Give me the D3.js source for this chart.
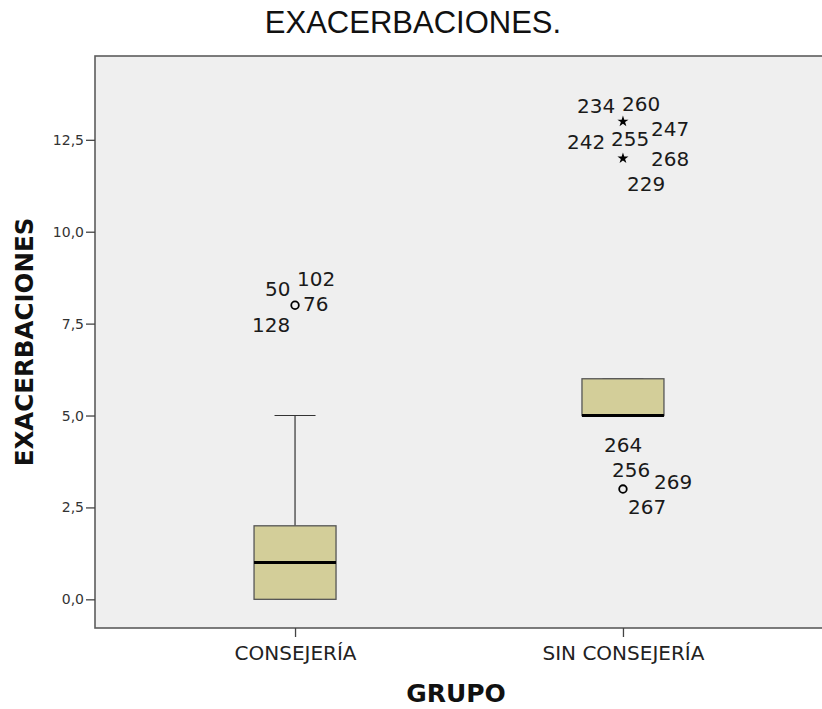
<!DOCTYPE html>
<html>
<head>
<meta charset="utf-8">
<script src="https://cdn.jsdelivr.net/npm/d3@7"></script>
<style>
  html, body { margin: 0; padding: 0; background: #fff; }
  svg { display: block; }
</style>
</head>
<body>
<svg id="chart" width="822" height="709"></svg>
<script>
// Groups and their box-plot summaries (number of exacerbations)
const groups = ["CONSEJERÍA", "SIN CONSEJERÍA"];
const q1 = [0, 5];
const median = [1, 5];
const q3 = [2, 6];
const whiskerLow = [0, 5];
const whiskerHigh = [5, 6];

// Outliers: group index, value, kind (circle = outlier, star = extreme), case labels
const outlierGroup = [0, 1, 1, 1];
const outlierValue = [8, 13, 12, 3];
const outlierKind = ["circle", "star", "star", "circle"];
const outlierCases = [
  ["50", "102", "76", "128"],
  ["234", "260", "242", "255", "247"],
  ["268", "229"],
  ["264", "256", "269", "267"]
];

// Y axis ticks
const yTicks = [0, 2.5, 5, 7.5, 10, 12.5];

// Label placement around each outlier (pixel offsets from the mark)
const labelOffsets = [
  [[-30, -9], [2, -19], [8, 6], [-43, 27]],
  [[-46, -8], [-1, -10], [-56, 28], [-12, 25], [28, 15]],
  [[28, 8], [4, 33]],
  [[-19, -37], [-11, -12], [31, 0], [5, 25]]
];

const svg = d3.select("#chart");
const plot = { left: 95, right: 823, top: 56, bottom: 628 };

const y = d3.scaleLinear().domain([-0.78, 14.78]).range([plot.bottom, plot.top]);
const x = d3.scalePoint().domain(groups).range([plot.left, plot.right]).padding(0.61);
const step = x.step();
const boxW = step * 0.25;

// Title
svg.append("text")
  .attr("x", 413).attr("y", 33)
  .attr("text-anchor", "middle")
  .attr("font-family", "Liberation Sans, Arial, sans-serif")
  .attr("font-size", 31)
  .attr("fill", "#111")
  .text("EXACERBACIONES.");

// Plot background
svg.append("rect")
  .attr("x", plot.left).attr("y", plot.top)
  .attr("width", plot.right - plot.left).attr("height", plot.bottom - plot.top)
  .attr("fill", "#efefef")
  .attr("stroke", "#5c5c5c").attr("stroke-width", 1.6);

// Y axis
const yAxis = d3.axisLeft(y).tickValues(yTicks).tickSize(9).tickPadding(2)
  .tickFormat(d => d3.format(".1f")(d).replace(".", ","));
const gy = svg.append("g").attr("transform", `translate(${plot.left},0)`).call(yAxis);
gy.select(".domain").remove();
gy.selectAll("line").attr("stroke", "#444").attr("stroke-width", 1.3);
gy.selectAll("text")
  .attr("font-family", "DejaVu Sans, sans-serif")
  .attr("font-size", 14).attr("fill", "#333");

// X axis
const xAxis = d3.axisBottom(x).tickSize(9).tickPadding(9);
const gx = svg.append("g").attr("transform", `translate(0,${plot.bottom})`).call(xAxis);
gx.select(".domain").remove();
gx.selectAll("line").attr("stroke", "#444").attr("stroke-width", 1.3);
gx.selectAll("text")
  .attr("font-family", "DejaVu Sans, sans-serif")
  .attr("font-size", 20).attr("fill", "#222");

// Axis titles
svg.append("text")
  .attr("transform", `translate(33,342) rotate(-90)`)
  .attr("text-anchor", "middle")
  .attr("font-family", "DejaVu Sans, sans-serif")
  .attr("font-weight", "bold")
  .attr("font-size", 24.5)
  .attr("fill", "#111")
  .text("EXACERBACIONES");

svg.append("text")
  .attr("x", 456).attr("y", 702)
  .attr("text-anchor", "middle")
  .attr("font-family", "DejaVu Sans, sans-serif")
  .attr("font-weight", "bold")
  .attr("font-size", 25)
  .attr("fill", "#111")
  .text("GRUPO");

// Boxes
const boxes = svg.append("g");
groups.forEach((g, i) => {
  const cx = x(g);
  const gg = boxes.append("g");
  // whiskers
  gg.append("line")
    .attr("x1", cx).attr("x2", cx)
    .attr("y1", y(q3[i])).attr("y2", y(whiskerHigh[i]))
    .attr("stroke", "#333").attr("stroke-width", 1.2);
  gg.append("line")
    .attr("x1", cx).attr("x2", cx)
    .attr("y1", y(q1[i])).attr("y2", y(whiskerLow[i]))
    .attr("stroke", "#333").attr("stroke-width", 1.2);
  [whiskerHigh[i], whiskerLow[i]].forEach(v => {
    gg.append("line")
      .attr("x1", cx - boxW / 4).attr("x2", cx + boxW / 4)
      .attr("y1", y(v)).attr("y2", y(v))
      .attr("stroke", "#333").attr("stroke-width", 1.2);
  });
  // box
  gg.append("rect")
    .attr("x", cx - boxW / 2).attr("width", boxW)
    .attr("y", y(q3[i])).attr("height", y(q1[i]) - y(q3[i]))
    .attr("fill", "#d3ce99")
    .attr("stroke", "#555").attr("stroke-width", 1.3);
  // median
  gg.append("line")
    .attr("x1", cx - boxW / 2).attr("x2", cx + boxW / 2)
    .attr("y1", y(median[i])).attr("y2", y(median[i]))
    .attr("stroke", "#000").attr("stroke-width", 3);
});

// Outliers and case labels
const star = d3.symbol().type(d3.symbolStar).size(38);
const out = svg.append("g");
outlierValue.forEach((v, k) => {
  const px = x(groups[outlierGroup[k]]);
  const py = y(v);
  if (outlierKind[k] === "circle") {
    out.append("circle")
      .attr("cx", px).attr("cy", py).attr("r", 3.8)
      .attr("fill", "none").attr("stroke", "#000").attr("stroke-width", 1.8);
  } else {
    out.append("path")
      .attr("d", star())
      .attr("transform", `translate(${px},${py})`)
      .attr("fill", "#000");
  }
  outlierCases[k].forEach((lbl, j) => {
    const [dx, dy] = labelOffsets[k][j];
    out.append("text")
      .attr("x", px + dx).attr("y", py + dy)
      .attr("font-family", "DejaVu Sans, sans-serif")
      .attr("font-size", 20)
      .attr("fill", "#1a1a1a")
      .text(lbl);
  });
});
</script>
</body>
</html>
